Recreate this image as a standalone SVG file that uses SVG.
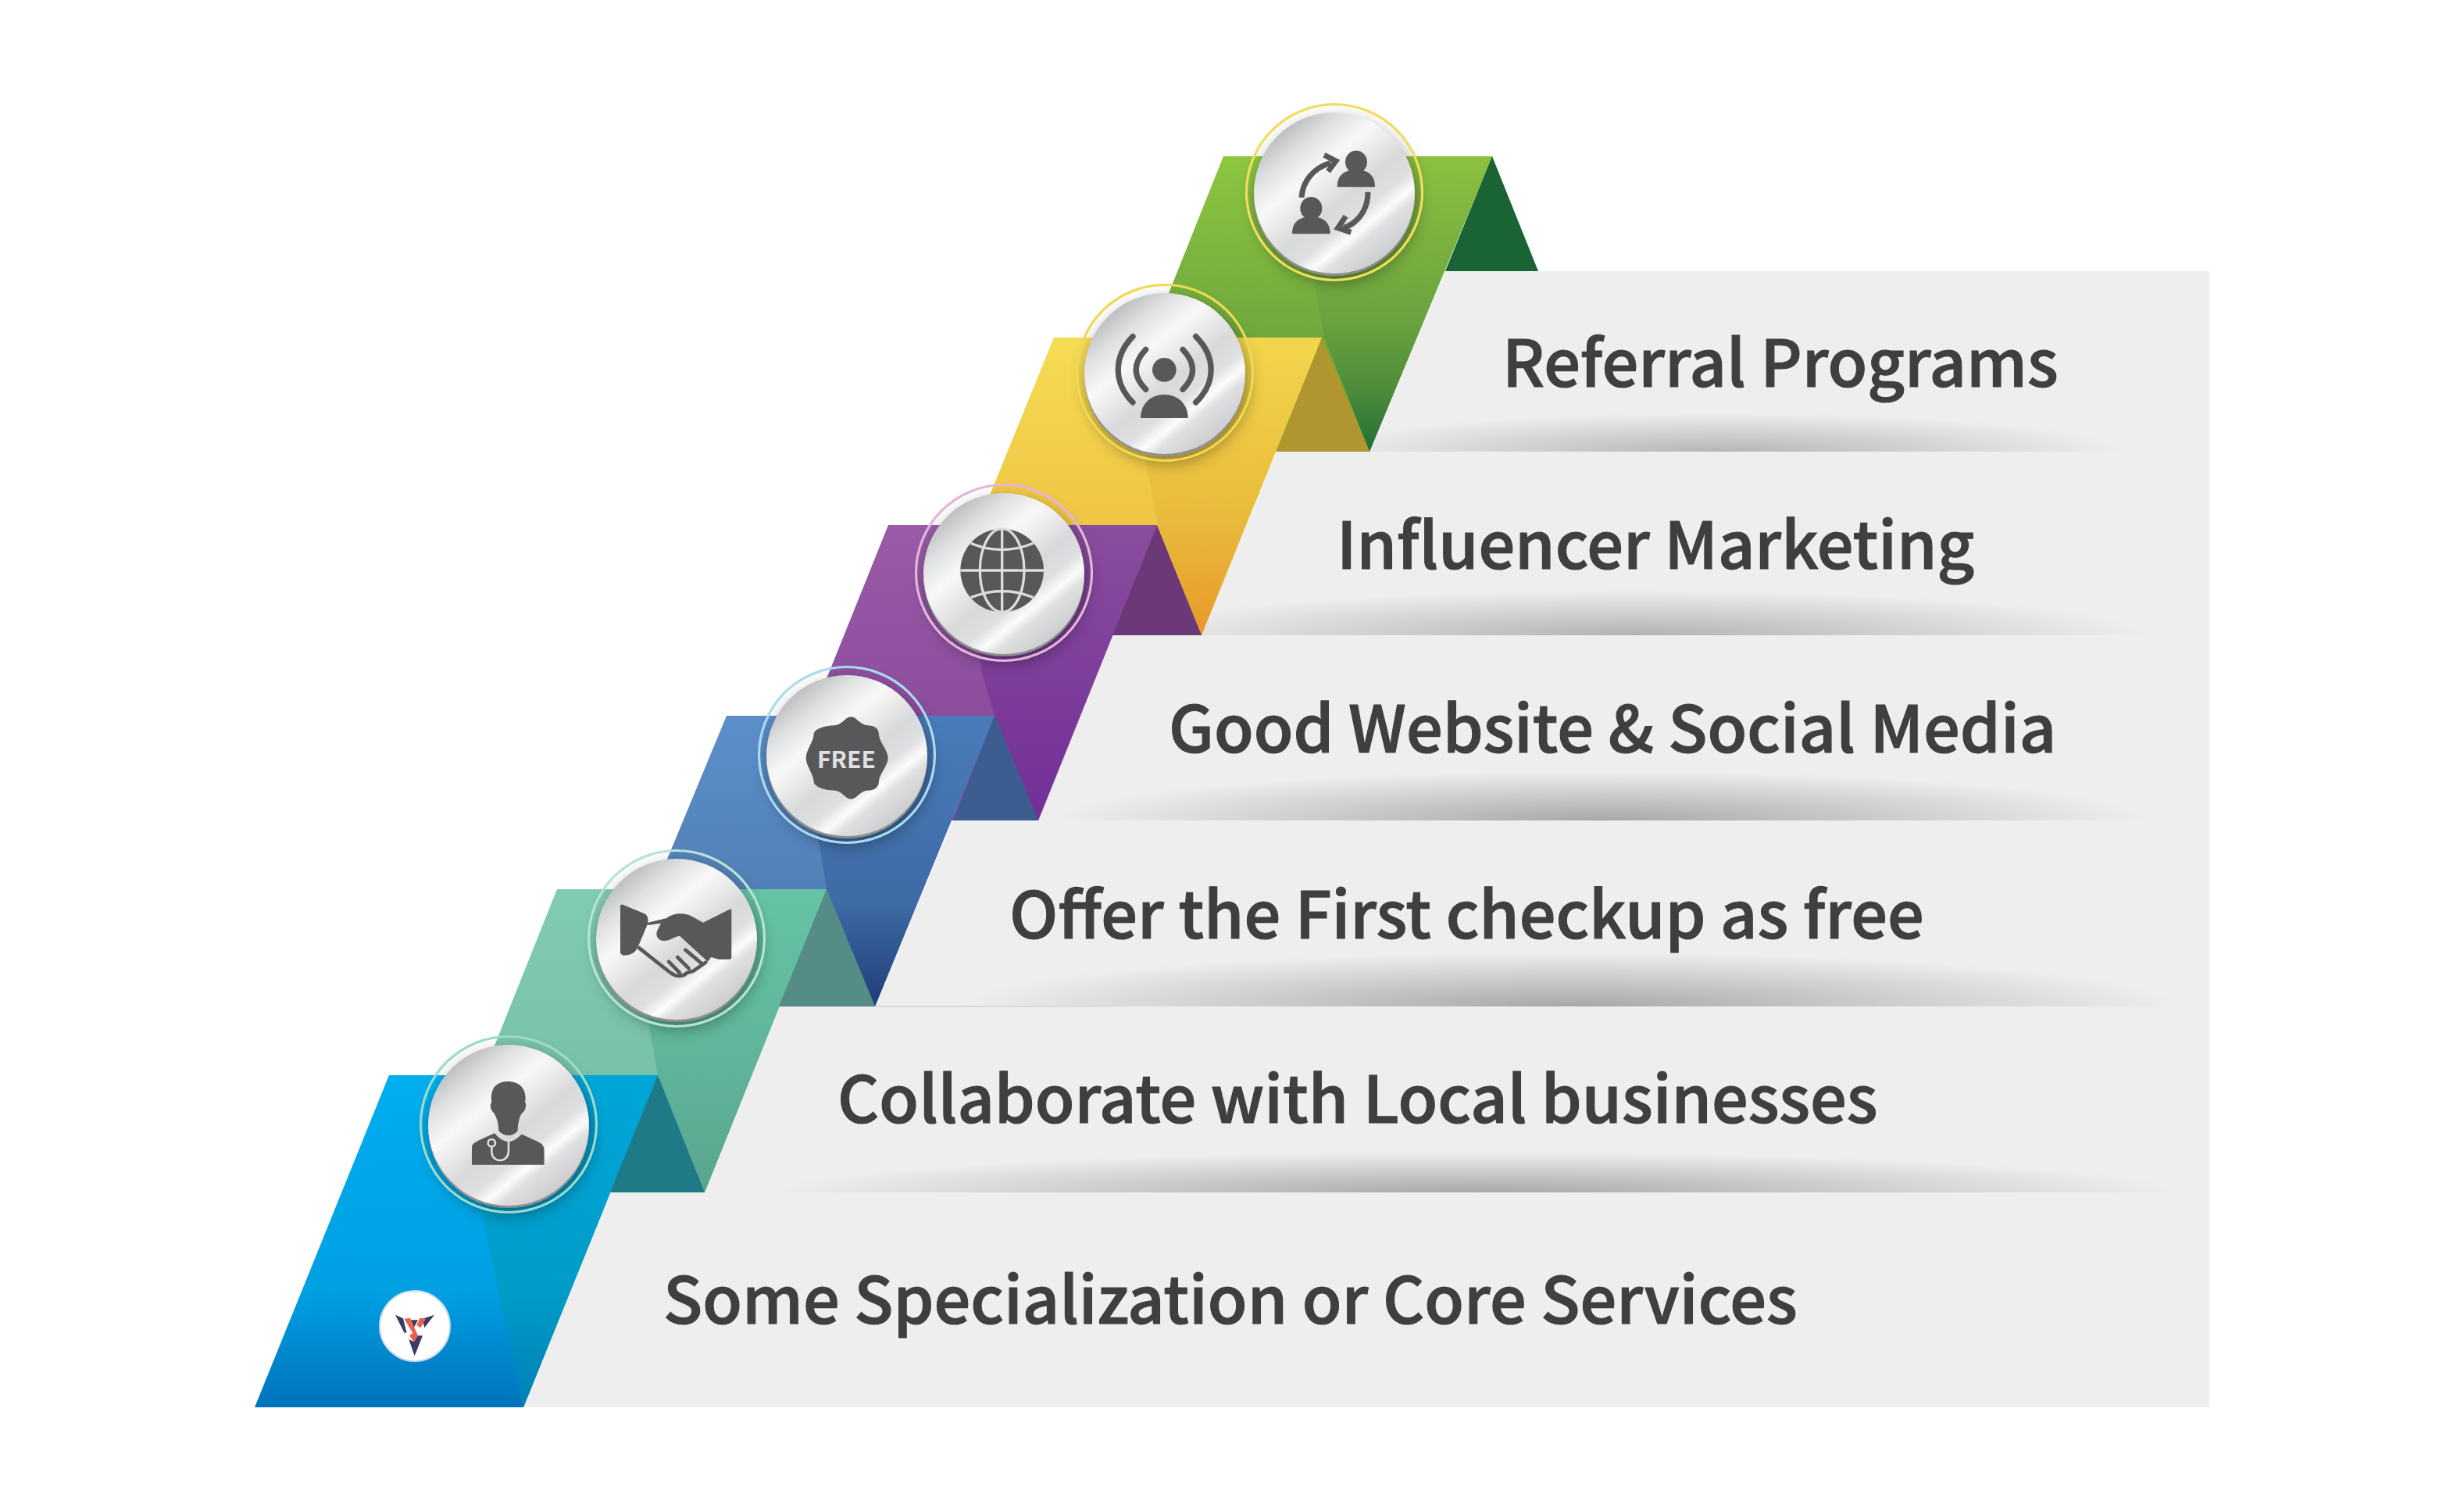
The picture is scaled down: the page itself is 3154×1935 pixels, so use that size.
<svg xmlns="http://www.w3.org/2000/svg" width="3154" height="1935" viewBox="0 0 3154 1935">
<style>
.bar{fill:#eeeeee}
.sh{fill:url(#shadowGrad)}
.lbl{font-family:"Noto Sans CJK SC","Noto Sans",sans-serif;font-weight:500;font-size:82.6px;fill:#3f3f3f;stroke:#3f3f3f;stroke-width:1.2px}
.disk{fill:url(#metal)}
.rim{fill:#8d8e90;filter:url(#ds)}
.ring{fill:none;stroke-width:3.2}
.ico{fill:#58585a}
.icl{fill:none;stroke:#58585a;stroke-linecap:round}
.lite{fill:none;stroke:#dcdcdd}
</style>
<defs>
<filter id="ds" x="-40%" y="-40%" width="180%" height="180%"><feDropShadow dx="3" dy="7" stdDeviation="11" flood-color="#000" flood-opacity="0.42"/></filter>
<radialGradient id="shadowGrad"><stop offset="0" stop-color="#858383" stop-opacity=".66"/><stop offset=".45" stop-color="#858383" stop-opacity=".36"/><stop offset="1" stop-color="#858383" stop-opacity="0"/></radialGradient>
<linearGradient id="metal" x1=".16" y1=".08" x2=".84" y2=".92"><stop offset="0" stop-color="#b5b6b8"/><stop offset=".17" stop-color="#dedfe0"/><stop offset=".33" stop-color="#f8f8f8"/><stop offset=".43" stop-color="#ebebec"/><stop offset=".56" stop-color="#d8d9da"/><stop offset=".68" stop-color="#dedfe0"/><stop offset=".76" stop-color="#fcfcfc"/><stop offset=".82" stop-color="#dedfe0"/><stop offset="1" stop-color="#c8c9ca"/></linearGradient>
<linearGradient id="l1" x1="0" y1="0" x2="0" y2="1"><stop offset="0" stop-color="#8dc63f"/><stop offset=".6" stop-color="#6fa83d"/></linearGradient>
<linearGradient id="r1" x1="0" y1="0" x2="0" y2="1"><stop offset="0" stop-color="#8cc13f"/><stop offset=".55" stop-color="#6aa33e"/><stop offset=".8" stop-color="#4c8b3a"/><stop offset="1" stop-color="#1f6e36"/></linearGradient>
<linearGradient id="l2" x1="0" y1="0" x2="0" y2="1"><stop offset="0" stop-color="#f6dc54"/><stop offset=".6" stop-color="#efc644"/></linearGradient>
<linearGradient id="r2" x1="0" y1="0" x2="0" y2="1"><stop offset="0" stop-color="#f3d64c"/><stop offset=".6" stop-color="#e9bb3c"/><stop offset="1" stop-color="#e8982a"/></linearGradient>
<linearGradient id="l3" x1="0" y1="0" x2="0" y2="1"><stop offset="0" stop-color="#9a5ba8"/><stop offset=".7" stop-color="#8a4c9c"/></linearGradient>
<linearGradient id="r3" x1="0" y1="0" x2="0" y2="1"><stop offset="0" stop-color="#8a4d9e"/><stop offset="1" stop-color="#722f98"/></linearGradient>
<linearGradient id="l4" x1="0" y1="0" x2="0" y2="1"><stop offset="0" stop-color="#5b8fca"/><stop offset=".6" stop-color="#5380b8"/></linearGradient>
<linearGradient id="r4" x1="0" y1="0" x2="0" y2="1"><stop offset="0" stop-color="#4a7cbb"/><stop offset=".65" stop-color="#3e6aa5"/><stop offset="1" stop-color="#1f3d78"/></linearGradient>
<linearGradient id="l5" x1="0" y1="0" x2="0" y2="1"><stop offset="0" stop-color="#80cbb3"/><stop offset=".6" stop-color="#78c2a8"/></linearGradient>
<linearGradient id="r5" x1="0" y1="0" x2="0" y2="1"><stop offset="0" stop-color="#65c4a4"/><stop offset=".6" stop-color="#5fb39a"/><stop offset="1" stop-color="#5aa58e"/></linearGradient>
<linearGradient id="l6" x1="0" y1="0" x2="0" y2="1"><stop offset="0" stop-color="#00aeef"/><stop offset=".65" stop-color="#00a0e3"/><stop offset="1" stop-color="#0072bc"/></linearGradient>
<linearGradient id="r6" x1="0" y1="0" x2="0" y2="1"><stop offset="0" stop-color="#00a6d9"/><stop offset=".65" stop-color="#009cc8"/><stop offset="1" stop-color="#0080b6"/></linearGradient>
</defs>
<rect width="3154" height="1935" fill="#ffffff"/>

<g id="bars">
<polygon class="bar" points="1850,347 2828,347 2828,578 1753,578"/>
<ellipse class="sh" cx="2200" cy="578" rx="520" ry="50" opacity=".8"/>
<polygon class="bar" points="1634,578 2828,578 2828,813 1538,813"/>
<ellipse class="sh" cx="2090" cy="813" rx="660" ry="58" opacity=".85"/>
<polygon class="bar" points="1424,813 2828,813 2828,1050 1329,1050"/>
<ellipse class="sh" cx="2050" cy="1050" rx="700" ry="64"/>
<polygon class="bar" points="1220,1050 2828,1050 2828,1288 1120,1288"/>
<ellipse class="sh" cx="2010" cy="1288" rx="780" ry="70"/>
<polygon class="bar" points="997,1288 2828,1288 2828,1526 902,1526"/>
<ellipse class="sh" cx="1890" cy="1526" rx="900" ry="52"/>
<polygon class="bar" points="781,1526 2828,1526 2828,1801 670,1801"/>
<rect x="997" y="1287" width="430" height="2" fill="#dadada"/>
</g>

<g id="ribbons">
<g id="ribbon-referral">
<polygon fill="url(#l1)" points="1566,200 1910,200 1753,578 1415,578"/>
<polygon fill="url(#r1)" points="1668,200 1910,200 1753,578 1695,431 1683,365"/>
<polygon fill="#1a6334" points="1910,200 1969,347 1850,347"/>
</g>
<g id="ribbon-influencer">
<polygon fill="url(#l2)" points="1349,432 1692,432 1538,813 1194,813"/>
<polygon fill="url(#r2)" points="1450,432 1692,432 1538,813 1482,672 1468,597"/>
<polygon fill="#b1962f" points="1692,432 1753,578 1634,578"/>
</g>
<g id="ribbon-website">
<polygon fill="url(#l3)" points="1137,672 1481,672 1329,1050 985,1050"/>
<polygon fill="url(#r3)" points="1230,672 1481,672 1329,1050 1273,916 1257,862"/>
<polygon fill="#6c3878" points="1481,672 1538,813 1424,813"/>
</g>
<g id="ribbon-free">
<polygon fill="url(#l4)" points="930,916 1273,916 1120,1288 776,1288"/>
<polygon fill="url(#r4)" points="1025,916 1273,916 1120,1288 1058,1138 1048,1077"/>
<polygon fill="#3b5d8f" points="1273,916 1329,1050 1220,1050"/>
</g>
<g id="ribbon-collaborate">
<polygon fill="url(#l5)" points="713,1138 1058,1138 902,1526 558,1526"/>
<polygon fill="url(#r5)" points="810,1138 1058,1138 902,1526 842,1376 831,1313"/>
<polygon fill="#558c85" points="1058,1138 1120,1288 997,1288"/>
</g>
<g id="ribbon-specialization">
<polygon fill="url(#l6)" points="498,1376 842,1376 670,1801 326,1801"/>
<polygon fill="url(#r6)" points="590,1376 842,1376 670,1801 619,1564"/>
<polygon fill="#1f7a87" points="842,1376 902,1526 781,1526"/>
</g>
</g>

<g id="node-referral">
<circle class="rim" cx="1708" cy="250" r="103"/><circle class="disk" cx="1708" cy="247" r="103"/>
<circle class="ring" stroke="#f0dd60" cx="1708" cy="246" r="112.5"/>
<g transform="translate(1640 180) scale(.3333)">
<ellipse class="ico" cx="288" cy="82" rx="42" ry="44"/><path class="ico" d="M215 178C215 130 245 112 288 112C330 112 360 130 360 178Z"/>
<ellipse class="ico" cx="115" cy="260" rx="42" ry="44"/><path class="ico" d="M42 358C42 310 72 292 115 292C157 292 188 310 188 358Z"/>
<path class="icl" style="stroke-linecap:butt" stroke-width="21" d="M78 218C82 160 120 105 190 85M165 55L210 78L180 118M333 197C333 260 300 315 240 335M248 290L218 335L268 352"/>
</g>
</g>

<g id="node-influencer">
<circle class="rim" cx="1491" cy="481" r="103"/><circle class="disk" cx="1491" cy="478" r="103"/>
<circle class="ring" stroke="#f0d952" cx="1491" cy="477" r="112.5"/>
<g transform="translate(1410 410) scale(.3333)">
<circle class="ico" cx="241" cy="190" r="46"/><path class="ico" d="M150 375C150 320 190 285 241 285C292 285 332 320 332 375Z"/>
<path class="icl" stroke-width="22" d="M120 62C45 140 45 240 120 315M362 62C440 140 440 240 362 315M170 112C120 165 120 215 170 265M312 112C362 165 362 215 312 265"/>
</g>
</g>

<g id="node-website">
<circle class="rim" cx="1285" cy="737" r="103"/><circle class="disk" cx="1285" cy="734" r="103"/>
<circle class="ring" stroke="#e3b5d9" cx="1285" cy="733" r="112.5"/>
<g transform="translate(1210 660) scale(.3333)">
<circle class="ico" cx="218" cy="210" r="160"/>
<g class="lite" stroke-width="10"><ellipse cx="218" cy="210" rx="85" ry="160"/><path d="M218 50V370M58 210H378M98 106Q218 155 338 106M98 314Q218 265 338 314"/></g>
</g>
</g>

<g id="node-free">
<circle class="rim" cx="1084" cy="970" r="103"/><circle class="disk" cx="1084" cy="967" r="103"/>
<circle class="ring" stroke="#a8dcec" cx="1084" cy="966" r="112.5"/>
<g transform="translate(1010 900) scale(.3333)">
<path class="ico" d="M238 52C260 52 270 82 300 85C325 85 345 95 345 120C347 150 380 180 380 210C380 240 347 270 345 300C345 325 325 335 300 335C270 338 260 368 238 368C216 368 206 338 176 335C151 335 95 325 95 300C93 270 65 240 65 210C65 180 93 150 95 120C95 95 151 85 176 85C206 82 216 52 238 52Z"/>
</g>
<text x="1083.5" y="982.5" text-anchor="middle" font-family="'Noto Sans CJK SC','Noto Sans',sans-serif" font-weight="700" font-size="30" fill="#e0e0e1">FREE</text>
</g>

<g id="node-collaborate">
<circle class="rim" cx="866" cy="1205" r="103"/><circle class="disk" cx="866" cy="1202" r="103"/>
<circle class="ring" stroke="#b5e4d3" cx="866" cy="1201" r="112.5"/>
<g transform="translate(770 1130) scale(.3333)">
<path class="ico" d="M78 82L165 118C178 125 180 140 178 155L140 245C128 270 110 278 82 278L72 270V88Z"/>
<path class="ico" d="M178 152L250 135C275 115 320 112 350 130L390 152L495 100Q499 100 499 105V285Q499 293 490 293H450C435 290 425 285 420 285L408 302L300 203C280 205 265 222 240 222C215 222 205 200 215 180L228 155L178 162Z"/>
<path class="icl" stroke-width="14" d="M145 250L265 345C285 360 310 362 328 345L352 338L375 322L400 305M258 302L300 345M292 285L335 328M322 257L388 312"/>
</g>
</g>

<g id="node-specialization">
<circle class="rim" cx="651" cy="1443" r="103"/><circle class="disk" cx="651" cy="1440" r="103"/>
<circle class="ring" stroke="#9cdacb" cx="651" cy="1439" r="112.5"/>
<g transform="translate(570 1360) scale(.3333)">
<path class="ico" d="M240 72C285 72 308 100 308 135C308 145 306 150 306 152C312 155 310 175 303 185C298 190 292 195 288 205C282 222 278 240 278 262C260 285 225 285 205 262C205 240 200 220 193 205C190 195 183 190 178 183C172 170 172 155 178 152C176 140 176 130 178 120C182 90 205 72 240 72Z"/>
<path class="ico" d="M190 270C205 288 225 300 242 302C260 300 275 288 288 272L355 303C370 310 380 320 380 335V392H102V325C102 312 115 305 125 300Z"/>
<path class="lite" stroke-width="8" d="M193 268C210 290 225 298 243 300C262 298 278 285 292 270M243 300V340C243 360 230 375 210 375C195 375 180 365 178 345V322"/>
<circle class="lite" stroke-width="8" cx="178" cy="308" r="14"/>
</g>
</g>

<g id="logo">
<circle cx="531" cy="1697" r="45" fill="#ffffff" stroke="#c9dbe6" stroke-width="2"/>
<g transform="translate(480 1646) scale(.3333)">
<path fill="#3b3a66" d="M78 110L108 124L122 180L112 178ZM228 110L190 160L182 125ZM138 130L165 130L150 158ZM130 205L148 212L165 190L183 190L152 268Z"/>
<path fill="#e9604f" d="M112 125L135 122L165 190L150 215L132 190L145 180ZM172 122L195 125L175 160L160 150Z"/>
</g>
</g>

<g id="labels">
<text class="lbl" x="1923" y="495">Referral Programs</text>
<text class="lbl" x="1711" y="728">Influencer Marketing</text>
<text class="lbl" x="1496" y="963">Good Website &amp; Social Media</text>
<text class="lbl" x="1292" y="1201">Offer the First checkup as free</text>
<text class="lbl" x="1072" y="1437">Collaborate with Local businesses</text>
<text class="lbl" x="849" y="1694">Some Specialization or Core Services</text>
</g>
</svg>
